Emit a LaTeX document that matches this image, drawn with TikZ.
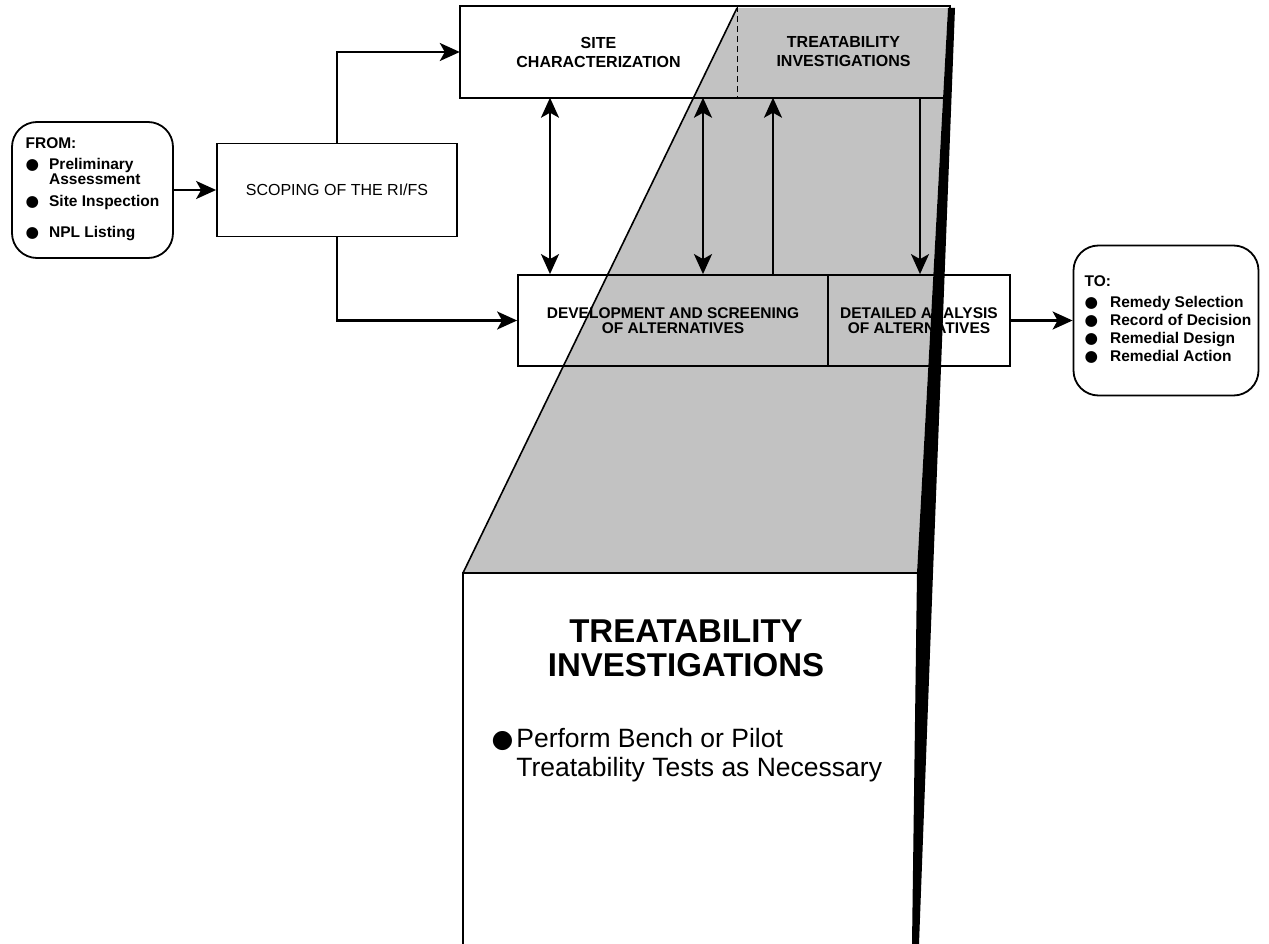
\documentclass[tikz,border=0pt]{standalone}
\usepackage{fontspec}
\setmainfont{Liberation Sans}
\newfontfamily\symfont{DejaVu Sans}
\usetikzlibrary{arrows.meta}

\definecolor{shadegray}{gray}{0.76}

\newcommand{\bul}{{\symfont ●}}
\newcommand{\bigbul}{{\symfont\fontsize{25}{27}\selectfont ●}}

\tikzstyle{box} = [rectangle, draw=black, line width=1.8pt, text centered, align=center]
\tikzstyle{plain} = [rectangle, text centered, align=center]
\tikzstyle{roundbox} = [rectangle, rounded corners=25pt, draw=black, line width=1.8pt, align=left]
\tikzstyle{smalltext} = [font=\fontsize{16}{16}\selectfont]
\tikzstyle{boldtext} = [font=\bfseries\fontsize{15.5}{15}\selectfont]
\tikzstyle{toptext} = [font=\bfseries\fontsize{16}{19}\selectfont]
\tikzstyle{arrow} = [line width=2.2pt, -{Stealth[length=20pt,width=18pt,inset=5pt]}]
\tikzstyle{dblarrow} = [line width=2.4pt, {Stealth[length=20pt,width=18pt,inset=5pt]}-{Stealth[length=20pt,width=18pt,inset=5pt]}]

\begin{document}
\begin{tikzpicture}[x=1pt, y=-1pt]

\path[use as bounding box, fill=white] (0,0) rectangle (1269,944);

\fill[shadegray] (737,8) -- (948,8) -- (917,573) -- (463,573) -- cycle;
\draw[line width=1.6pt] (737,8) -- (463,573);

\node (from) [roundbox, boldtext, minimum width=161pt, minimum height=136pt] at (92.5,190) {\begin{tabular}{@{}l@{\hspace{10pt}}l@{}}
\multicolumn{2}{@{}l@{}}{FROM:}\\[5pt]
\bul & Preliminary\\
 & Assessment\\[6pt]
\bul & Site Inspection\\[15pt]
\bul & NPL Listing
\end{tabular}};

\node (scoping) [box, smalltext, minimum width=240pt, minimum height=93pt] at (337,190) {SCOPING OF THE RI/FS};

\node (site) [plain, toptext, minimum width=277pt, minimum height=91pt] at (598.5,52) {SITE\\CHARACTERIZATION};

\node (treat) [plain, toptext, minimum width=213pt, minimum height=91pt] at (843.5,52) {TREATABILITY\\INVESTIGATIONS};

\draw[line width=1.8pt] (site.north west) rectangle (treat.south east);
\draw[line width=1.2pt, dash pattern=on 6pt off 4pt] (site.north east) -- (site.south east);

\node (dev) [box, boldtext, minimum width=310pt, minimum height=91pt] at (673,320.5) {DEVELOPMENT AND SCREENING\\OF ALTERNATIVES};

\node (detail) [box, boldtext, minimum width=182pt, minimum height=91pt] at (919,320.5) {DETAILED ANALYSIS\\OF ALTERNATIVES};

\node (to) [roundbox, boldtext, minimum width=185pt, minimum height=150pt] at (1166,320.5) {\begin{tabular}{@{\hspace{4pt}}l@{\hspace{12pt}}l@{}}
\multicolumn{2}{@{\hspace{4pt}}l@{}}{TO:}\\[6pt]
\bul & Remedy Selection\\[2pt]
\bul & Record of Decision\\[2pt]
\bul & Remedial Design\\[2pt]
\bul & Remedial Action
\end{tabular}};

\draw[line width=2pt] (917,573) -- (463,573) -- (463,944);

\node (bigtitle) [plain, font=\bfseries\fontsize{33}{34}\selectfont] at (686,648) {TREATABILITY\\INVESTIGATIONS};

\node (bigitem) [anchor=north west, font=\fontsize{26.5}{29}\selectfont] at (488,724) {\begin{tabular}{@{}l@{\hspace{3pt}}l@{}}
\bigbul & Perform Bench or Pilot\\
 & Treatability Tests as Necessary
\end{tabular}};

\draw[arrow] (from) -- (scoping);
\draw[arrow] (scoping.north) |- (site.west);
\draw[arrow] (scoping.south) |- (dev.west);
\draw[arrow] (detail) -- (to);

\draw[dblarrow] (550,0 |- site.south) -- (550,0 |- dev.north);
\draw[dblarrow] (703,0 |- site.south) -- (703,0 |- dev.north);
\draw[arrow] (773,0 |- dev.north) -- (773,0 |- treat.south);
\draw[arrow] (920,0 |- treat.south) -- (920,0 |- detail.north);

\fill[black] (948,8) -- (955,8) -- (933,573) -- (919,944) -- (912,944) -- (917,573) -- cycle;

\end{tikzpicture}
\end{document}
